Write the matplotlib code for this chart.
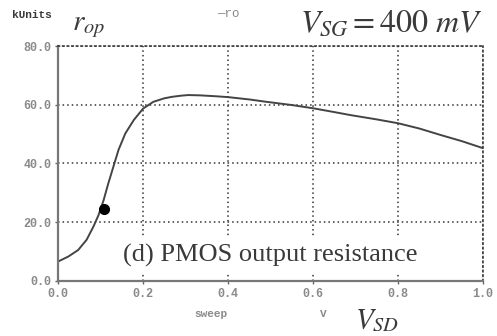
"""PMOS output resistance sweep (r_op vs V_SD)."""

import matplotlib

matplotlib.use("Agg")
from matplotlib import pyplot as plt

# ---------------------------------------------------------------------------
# Data
# ---------------------------------------------------------------------------

vsd = [0.0, 0.024, 0.047, 0.067, 0.083, 0.095, 0.107, 0.118, 0.13, 0.142,
       0.158, 0.178, 0.2, 0.224, 0.25, 0.268, 0.29, 0.306, 0.334, 0.37,
       0.4, 0.45, 0.49, 0.55, 0.6, 0.65, 0.687, 0.75, 0.8, 0.85, 0.9,
       0.95, 1.0]
rop = [6.6, 8.3, 10.5, 14.0, 18.5, 22.4, 27.5, 33.2, 38.9, 44.6,
       50.2, 54.8, 58.7, 61.0, 62.2, 62.7, 63.1, 63.3, 63.2, 62.9,
       62.6, 61.8, 61.0, 59.9, 58.8, 57.5, 56.5, 55.0, 53.7, 51.9, 49.7,
       47.6, 45.2]

marker_x = [0.107]
marker_y = [24.4]

x_ticks = [0.0, 0.2, 0.4, 0.6, 0.8, 1.0]
x_tick_labels = ["0.0", "0.2", "0.4", "0.6", "0.8", "1.0"]
y_ticks = [0.0, 20.0, 40.0, 60.0, 80.0]
y_tick_labels = ["0.0", "20.0", "40.0", "60.0", "80.0"]

# ---------------------------------------------------------------------------
# Plot
# ---------------------------------------------------------------------------

plt.rcParams["mathtext.fontset"] = "stix"
MONO = "Liberation Mono"
SERIF = "Liberation Serif"
GRAY = "#8a8a8a"
DARK = "#3a3a3a"

fig = plt.figure(figsize=(4.97, 3.36), dpi=100)
ax = fig.add_axes([0.117, 0.164, 0.855, 0.699])

ax.plot(vsd, rop, color="#444444", lw=1.4)
ax.plot(marker_x, marker_y, "o", color="black", ms=7)

ax.set_xlim(0, 1.0)
ax.set_ylim(0, 80)
ax.set_xticks(x_ticks)
ax.set_xticklabels(x_tick_labels, family=MONO, fontsize=8.5, color=GRAY,
                   weight="bold")
ax.set_yticks(y_ticks)
ax.set_yticklabels(y_tick_labels, family=MONO, fontsize=8.5, color=GRAY,
                   weight="bold")
ax.tick_params(length=2, width=1, color="#666666", pad=3)

ax.grid(True, ls=(0, (1, 2)), color="#333333", lw=1.1)
for side in ["left", "bottom"]:
    ax.spines[side].set_color("#777777")
    ax.spines[side].set_linewidth(1.6)
for side in ["top", "right"]:
    ax.spines[side].set_linestyle((0, (1, 2)))
    ax.spines[side].set_color("#333333")
    ax.spines[side].set_linewidth(1.1)

# Annotations
fig.text(0.025, 0.945, "kUnits", family=MONO, fontsize=8, color=DARK,
         weight="bold")
fig.text(0.145, 0.91, r"$r_{op}$", fontsize=21, color=DARK)
fig.text(0.437, 0.95, "\u2014ro", family=MONO, fontsize=9, color=GRAY)
fig.text(0.603, 0.905, r"$V_{SG} = 400\ mV$", fontsize=23, color=DARK)
ax.text(0.5, 0.06, "(d) PMOS output resistance", transform=ax.transAxes,
        ha="center", va="bottom", family=SERIF, fontsize=19, color=DARK,
        bbox=dict(facecolor="white", edgecolor="none",
                  boxstyle="square,pad=0.25"))
fig.text(0.424, 0.057, "sweep", family=MONO, fontsize=8, color=GRAY,
         ha="center", weight="bold")
fig.text(0.65, 0.057, "V", family=MONO, fontsize=8, color=GRAY,
         ha="center", weight="bold")
fig.text(0.715, 0.025, r"$V_{SD}$", fontsize=21, color=DARK)

fig.savefig("out.png", dpi=100)
